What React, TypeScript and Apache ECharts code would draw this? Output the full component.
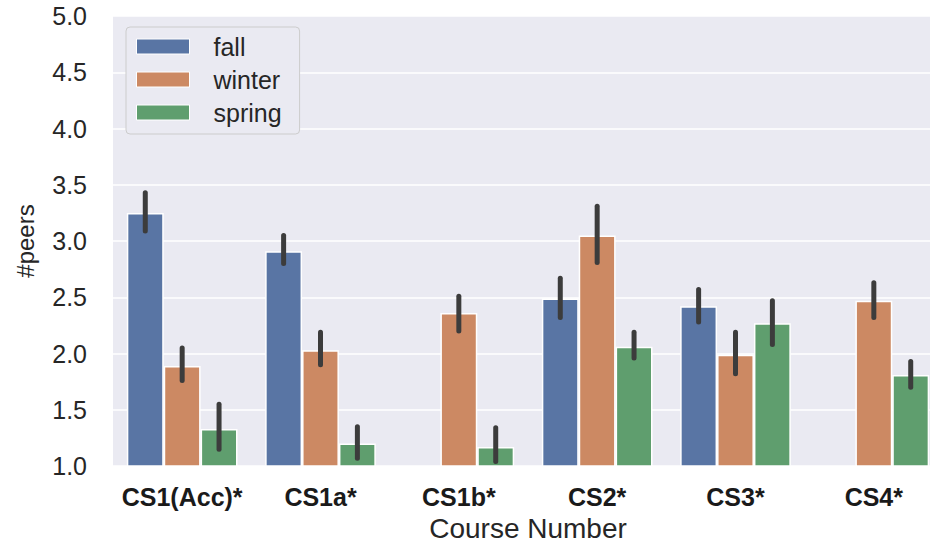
import React, { useEffect, useRef } from "react";
import * as echarts from "echarts";

const categories = ["CS1(Acc)*", "CS1a*", "CS1b*", "CS2*", "CS3*", "CS4*"];
const seriesNames = ["fall", "winter", "spring"];
const fallMean = [3.25, 2.91, null, 2.49, 2.42, null];
const winterMean = [1.89, 2.03, 2.36, 3.05, 1.99, 2.47];
const springMean = [1.33, 1.2, 1.17, 2.06, 2.27, 1.81];
const fallLo = [3.09, 2.8, null, 2.32, 2.28, null];
const fallHi = [3.43, 3.05, null, 2.67, 2.57, null];
const winterLo = [1.76, 1.9, 2.2, 2.81, 1.82, 2.32];
const winterHi = [2.05, 2.19, 2.51, 3.31, 2.19, 2.63];
const springLo = [1.15, 1.07, 1.04, 1.96, 2.08, 1.7];
const springHi = [1.55, 1.35, 1.34, 2.19, 2.47, 1.93];
const yTicks = [1.0, 1.5, 2.0, 2.5, 3.0, 3.5, 4.0, 4.5, 5.0];

const colors = ["#5975A4", "#CC8963", "#5F9E6E"];
const FONT = "'Liberation Sans', Arial, sans-serif";

export default function App() {
  const ref = useRef<HTMLDivElement>(null);
  useEffect(() => {
    if (!ref.current) return;
    const chart = echarts.init(ref.current, null, { renderer: "svg" });
    const means = [fallMean, winterMean, springMean];
    const los = [fallLo, winterLo, springLo];
    const his = [fallHi, winterHi, springHi];

    const barSeries = seriesNames.map((name, s) => ({
      name,
      type: "bar",
      data: means[s].map((v) => (v == null ? "-" : v)),
      barGap: "0%",
      barCategoryGap: "20%",
      itemStyle: { color: colors[s], borderColor: "#ffffff", borderWidth: 1.5 },
      z: 2,
    }));

    const errSeries = seriesNames.map((name, s) => ({
      name: name + "_err",
      type: "custom",
      z: 5,
      data: categories
        .map((_, i) => [i, los[s][i], his[s][i]])
        .filter((d) => d[1] != null),
      renderItem: (params: any, api: any) => {
        const ci = api.value(0);
        const lo = api.value(1);
        const hi = api.value(2);
        const band = api.size([1, 0])[0];
        const bw = (band * 0.8) / 3;
        const pLo = api.coord([ci, lo]);
        const pHi = api.coord([ci, hi]);
        const x = pLo[0] + (s - 1) * bw;
        return {
          type: "line",
          shape: { x1: x, y1: pLo[1], x2: x, y2: pHi[1] },
          style: { stroke: "#3c3c3c", lineWidth: 5, lineCap: "round" },
        };
      },
    }));

    chart.setOption({
      animation: false,
      backgroundColor: "#ffffff",
      textStyle: { fontFamily: FONT },
      grid: { left: 113, right: 2, top: 16, bottom: 73, backgroundColor: "#EAEAF2", show: true, borderWidth: 0 },
      legend: {
        data: seriesNames,
        orient: "vertical",
        left: 126,
        top: 27,
        icon: "rect",
        itemWidth: 53,
        itemHeight: 15,
        itemGap: 8,
        padding: [7, 18, 9, 10],
        backgroundColor: "#EAEAF2",
        borderColor: "#cccccc",
        borderWidth: 1,
        borderRadius: 4,
        textStyle: { fontSize: 25, lineHeight: 25, color: "#262626", fontFamily: FONT, padding: [0, 0, 0, 19] },
        itemStyle: { borderColor: "#ffffff", borderWidth: 1 },
      },
      xAxis: {
        type: "category",
        data: categories,
        name: "Course Number",
        nameLocation: "middle",
        nameGap: 48,
        nameTextStyle: { fontSize: 28, color: "#262626", fontFamily: FONT },
        axisLine: { show: false },
        axisTick: { show: false },
        axisLabel: { fontSize: 25, fontWeight: "bold", color: "#1a1a1a", margin: 18, fontFamily: FONT, interval: 0 },
        splitLine: { show: false },
      },
      yAxis: {
        type: "value",
        min: yTicks[0],
        max: yTicks[yTicks.length - 1],
        interval: 0.5,
        name: "#peers",
        nameLocation: "middle",
        nameGap: 76,
        nameTextStyle: { fontSize: 24, color: "#262626", fontFamily: FONT },
        axisLine: { show: false },
        axisTick: { show: false },
        axisLabel: {
          fontSize: 25,
          color: "#262626",
          margin: 26,
          fontFamily: FONT,
          formatter: (v: number) => v.toFixed(1),
        },
        splitLine: { lineStyle: { color: "#ffffff", width: 1.5 } },
      },
      series: [...barSeries, ...errSeries],
    });
    return () => chart.dispose();
  }, []);
  return (
    <div style={{ position: "absolute", left: 0, top: 0, width: 930, height: 547, overflow: "hidden" }}>
      <div ref={ref} style={{ width: 945, height: 547 }} />
    </div>
  );
}
